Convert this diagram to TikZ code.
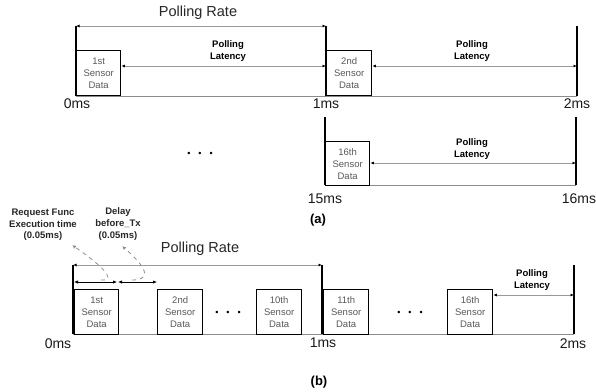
\documentclass[tikz,border=0pt]{standalone}
\usepackage{fontspec}
\setmainfont{Liberation Sans}
\usetikzlibrary{arrows.meta}
\begin{document}
\begin{tikzpicture}[x=1pt,y=-1pt,
  tick/.style={line width=1.8pt, black},
  base/.style={line width=0.8pt, black!45},
  dim/.style={line width=0.8pt, black!40, {Latex[length=3.5pt,width=3pt,black]}-{Latex[length=3.5pt,width=3pt,black]}},
  bdim/.style={line width=0.7pt, black, {Latex[length=4pt,width=3.4pt]}-{Latex[length=4pt,width=3.4pt]}},
  callout/.style={line width=0.8pt, black!45, dash pattern=on 4pt off 4pt, -{Latex[length=4pt,width=3.5pt]}},
  sbox/.style={draw=black, line width=1.3pt, fill=white, minimum width=44pt, minimum height=45pt, inner sep=0pt, align=center, font=\fontsize{9.5}{12}\selectfont, text=black!65},
  lat/.style={font=\bfseries\fontsize{9.5}{12}\selectfont, align=center},
  rate/.style={font=\fontsize{14.5}{16}\selectfont, text=black!85},
  ms/.style={font=\fontsize{14}{16}\selectfont, text=black!90},
  figlab/.style={font=\bfseries\fontsize{13}{15}\selectfont},
  dots/.style={font=\fontsize{9}{10}\selectfont},
  note/.style={font=\bfseries\fontsize{9.5}{11.7}\selectfont, align=center, text=black!85}
]
\useasboundingbox (0,0) rectangle (596,391);

% ---------------- (a) row 1 ----------------
\coordinate (a0t) at (76,26);  \coordinate (a0b) at (76,96);
\coordinate (a1t) at (326,26); \coordinate (a1b) at (326,96);
\coordinate (a2t) at (577,26); \coordinate (a2b) at (577,96);
\coordinate (a1m) at (326,66); \coordinate (a2m) at (577,66);
\draw[base] (a0b) -- (a2b);
\draw[dim] (a0t) -- (a1t);
\node[rate] (prA) at (198,13) {Polling Rate};
\node[sbox, anchor=north west] (s1) at (76,50) {1st\\Sensor\\Data};
\node[sbox, anchor=north west, minimum width=45pt] (s2) at (326,50) {2nd\\Sensor\\Data};
\draw[dim] (s1.east |- a1m) -- (a1m);
\draw[dim] (s2.east |- a2m) -- (a2m);
\node[lat] (la1) at (228,51) {Polling\\Latency};
\node[lat] (la2) at (472,51) {Polling\\Latency};
\draw[tick] (a0t) -- (a0b);
\draw[tick] (a1t) -- (a1b);
\draw[tick] (a2t) -- (a2b);
\node[ms] (m0) at (77,104) {0ms};
\node[ms] (m1) at (326,104) {1ms};
\node[ms] (m2) at (577,104) {2ms};

% ---------------- (a) row 2 ----------------
\coordinate (c0t) at (325,117); \coordinate (c0b) at (325,185);
\coordinate (c1t) at (576,117); \coordinate (c1b) at (576,185);
\coordinate (c1m) at (576,163);
\draw[base] (c0b) -- (c1b);
\node[sbox, anchor=north west, minimum height=44pt] (s16a) at (325,141) {16th\\Sensor\\Data};
\draw[dim] (s16a.east |- c1m) -- (c1m);
\node[lat] (la3) at (472,149) {Polling\\Latency};
\draw[tick] (c0t) -- (c0b);
\draw[tick] (c1t) -- (c1b);
\node[dots] (d1) at (200,154) {\textbullet\hspace{8pt}\textbullet\hspace{8pt}\textbullet};
\node[ms] (m15) at (325,199) {15ms};
\node[ms] (m16) at (579,199) {16ms};
\node[figlab] (fa) at (318,220) {(a)};

% ---------------- (b) ----------------
\coordinate (b0t) at (73,265);  \coordinate (b0b) at (73,334);
\coordinate (b1t) at (322,265); \coordinate (b1b) at (322,334);
\coordinate (b2t) at (574,265); \coordinate (b2b) at (574,334);
\coordinate (b2m) at (574,295);
\coordinate (e0) at (74,282); \coordinate (e1) at (117,282); \coordinate (e1r) at (118,282); \coordinate (e2) at (157,282);
\draw[base] (b0b) -- (b2b);
\draw[dim] (b0t) -- (b1t);
\node[rate] (prB) at (200,249) {Polling Rate};
\draw[bdim] (e0) -- (e1);
\draw[bdim] (e1r) -- (e2);
\node[sbox, anchor=north west] (t1) at (74,289) {1st\\Sensor\\Data};
\node[sbox, anchor=north west, minimum width=45pt] (t2) at (157,289) {2nd\\Sensor\\Data};
\node[sbox, anchor=north west, minimum width=45pt] (t10) at (256,289) {10th\\Sensor\\Data};
\node[sbox, anchor=north west, minimum width=45pt] (t11) at (323,289) {11th\\Sensor\\Data};
\node[sbox, anchor=north west, minimum width=45pt] (t16) at (447,289) {16th\\Sensor\\Data};
\node[dots] (d2) at (228,313) {\textbullet\hspace{8pt}\textbullet\hspace{8pt}\textbullet};
\node[dots] (d3) at (410,313) {\textbullet\hspace{8pt}\textbullet\hspace{8pt}\textbullet};
\draw[dim] (t16.east |- b2m) -- (b2m);
\node[lat] (la4) at (532,280) {Polling\\Latency};
\draw[tick] (b0t) -- (b0b);
\draw[tick] (b1t) -- (b1b);
\draw[tick] (b2t) -- (b2b);
\node[ms] (n0) at (58,344) {0ms};
\node[ms] (n1) at (323,343) {1ms};
\node[ms] (n2) at (573,344) {2ms};
\node[figlab] (fb) at (319,382) {(b)};

% annotations
\node[note] (req) at (43,225) {Request Func\\Execution time\\(0.05ms)};
\node[note] (dly) at (118,224) {Delay\\before\_Tx\\(0.05ms)};
\coordinate (r0) at (101,280); \coordinate (r1) at (72,245);
\coordinate (q0) at (132,280); \coordinate (q1) at (122,246);
\draw[callout] (r0) .. controls (112,281) and (114,274) .. (r1);
\draw[callout] (q0) .. controls (148,280) and (152,272) .. (q1);
\end{tikzpicture}
\end{document}
